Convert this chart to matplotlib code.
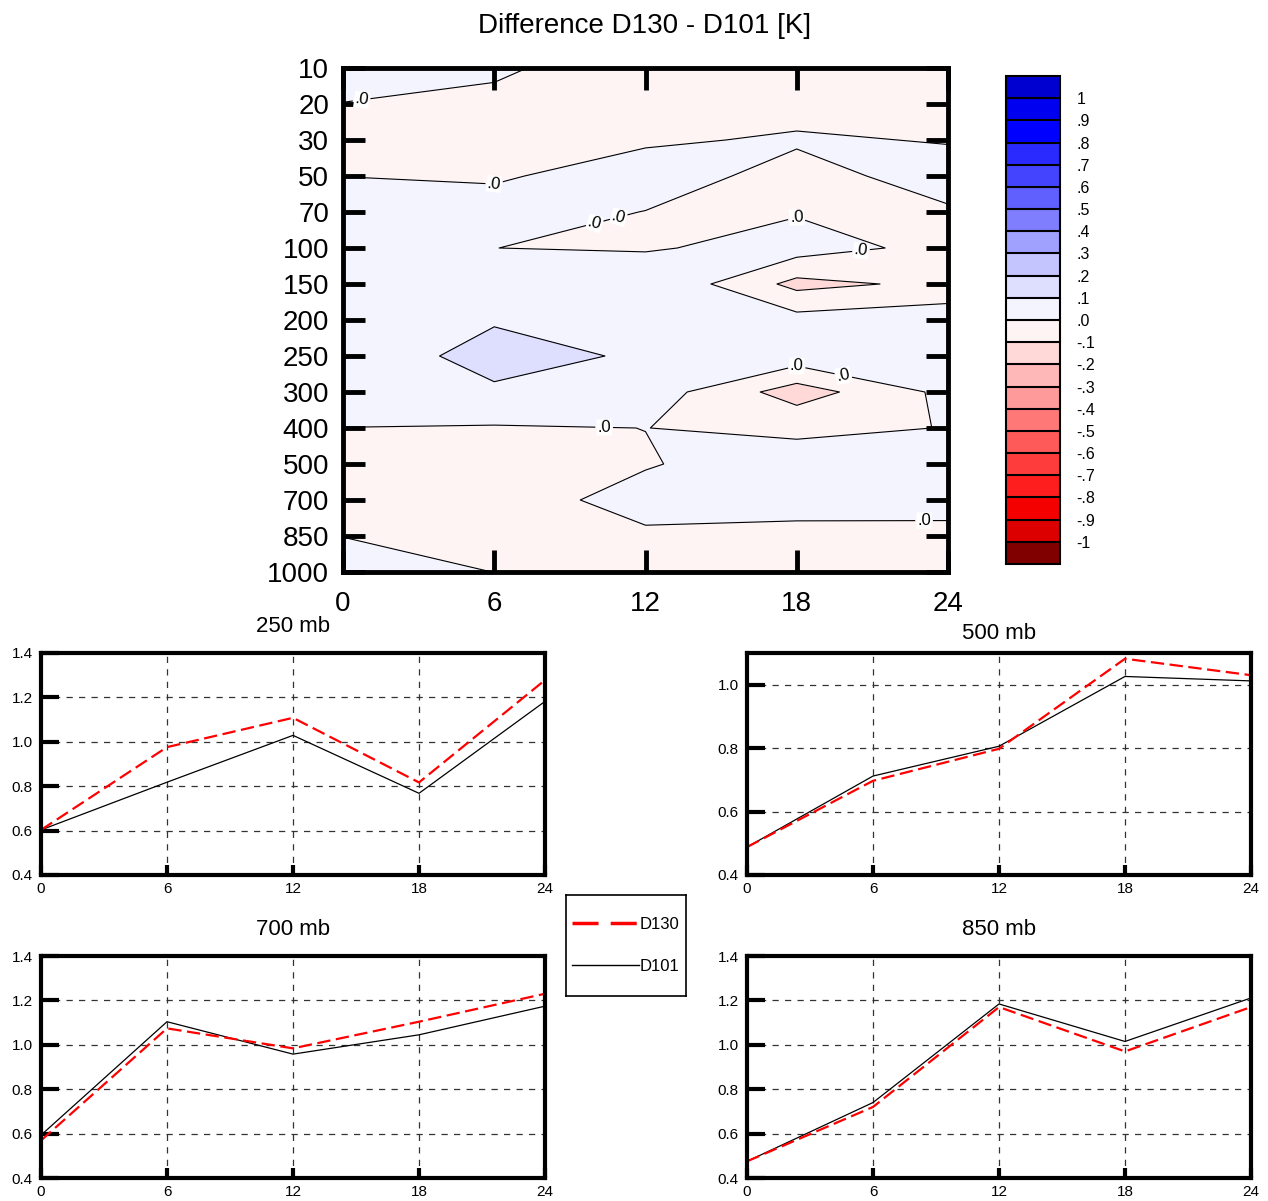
import numpy as np
import matplotlib.pyplot as plt
from matplotlib.lines import Line2D

plt.rcParams['font.family'] = ['Liberation Sans', 'DejaVu Sans']

W, H = 1268, 1201

hours = [0, 6, 12, 18, 24]
pres = ['10', '20', '30', '50', '70', '100', '150', '200', '250', '300',
        '400', '500', '700', '850', '1000']

# temperature difference D130 - D101 [K], one row per pressure level
diff = [
    [0.040, 0.020, -0.072, -0.050, -0.050],
    [-0.002, -0.030, -0.030, -0.030, -0.040],
    [-0.030, -0.040, -0.0113, 0.010, -0.005],
    [-0.001, -0.010, 0.040, -0.030, 0.035],
    [0.050, 0.035, -0.0017, -0.0079, -0.0099],
    [0.050, 0.0004, -0.012, 0.045, -0.032],
    [0.050, 0.050, 0.099, -0.130, -0.0755],
    [0.050, 0.093, 0.070, 0.0367, 0.064],
    [0.047, 0.130, 0.089, 0.058, 0.050],
    [0.050, 0.088, 0.057, -0.150, 0.027],
    [-0.001, -0.0077, 0.0005, -0.015, 0.0018],
    [-0.040, -0.040, -0.0045, 0.033, 0.040],
    [-0.040, -0.029, 0.022, 0.020, 0.020],
    [-0.001, -0.030, -0.0094, -0.0145, -0.015],
    [0.030, -0.0005, -0.030, -0.030, -0.030],
]

clev = np.round(np.linspace(-1, 1, 21), 1)
# under, -1..1 bins, over
ccols = ['#800000', '#DC0000', '#F50000', '#FF1E1E', '#FF3C3C', '#FF5A5A',
         '#FF7878', '#FF9A9A', '#FFB8B8', '#FFD8D8', '#FFF4F4',
         '#F4F4FF', '#DEDEFF', '#C4C4FF', '#A0A0FF', '#7E7EFF', '#6060FF',
         '#4444FF', '#2A2AFF', '#0000FF', '#0000F0', '#0000D0']

# time series at single levels
d130_250 = [0.603, 0.976, 1.108, 0.817, 1.278]
d101_250 = [0.603, 0.818, 1.029, 0.768, 1.182]
d130_500 = [0.488, 0.697, 0.798, 1.082, 1.030]
d101_500 = [0.488, 0.712, 0.806, 1.026, 1.012]
d130_700 = [0.569, 1.074, 0.984, 1.104, 1.230]
d101_700 = [0.593, 1.104, 0.958, 1.045, 1.174]
d130_850 = [0.475, 0.720, 1.170, 0.970, 1.170]
d101_850 = [0.475, 0.740, 1.184, 1.015, 1.211]


def frac(x0, y0, w, h):
    return [x0 / W, 1 - (y0 + h) / H, w / W, h / H]


def cbfmt(v):
    s = '%.1f' % v
    if s in ('1.0', '-1.0'):
        return s[:-2]
    return s.replace('0.', '.')


fig = plt.figure(figsize=(W / 100, H / 100), dpi=100)

# ---- main cross-section ----
ax = fig.add_axes(frac(343, 68, 605, 504))
z = np.array(diff)
yi = np.arange(len(pres))
cf = ax.contourf(hours, yi, z, levels=clev, colors=ccols, extend='both')
ax.contour(hours, yi, z, levels=clev[clev != 0], colors='k', linewidths=0.8,
           linestyles='solid')
cs0 = ax.contour(hours, yi, z, levels=[0.0], colors='k', linewidths=0.8,
                 linestyles='solid')
lab_pos = [(0.75, 0.94), (6.0, 3.25), (10.0, 4.35), (10.95, 4.17),
           (18.0, 4.14), (20.55, 5.08), (18.0, 8.28), (19.84, 8.56),
           (10.36, 10.0), (23.05, 12.58)]
labs = ax.clabel(cs0, manual=lab_pos, fmt=lambda v: '.0',
                 fontsize=12, inline=True, inline_spacing=2)
for t in labs:
    t.set_bbox(dict(facecolor='white', edgecolor='none', pad=0.5))

ax.set_xlim(0, 24)
ax.set_ylim(len(pres) - 1, 0)
ax.set_xticks(hours)
ax.set_yticks(yi)
ax.set_yticklabels(pres)
ax.tick_params(direction='in', length=16, width=3.5, labelsize=20,
               top=True, right=True, pad=10)
ax.tick_params(axis='x', pad=14)
for s in ax.spines.values():
    s.set_linewidth(3.5)

fig.text(645 / W, 1 - 26 / H, 'Difference D130 - D101 [K]', ha='center',
         va='center', fontsize=20)

cax = fig.add_axes(frac(1006, 76, 54, 488))
cb = fig.colorbar(cf, cax=cax, extendrect=True, extendfrac='auto',
                  drawedges=True, ticks=clev)
cb.set_ticklabels([cbfmt(v) for v in clev])
cb.ax.tick_params(length=0, labelsize=11.5, pad=12)
cb.outline.set_linewidth(1.5)
cb.dividers.set_linewidth(1.5)

# ---- single-level panels ----
panels = [
    ('250 mb', d130_250, d101_250, 41, 653, 15, 1.4),
    ('500 mb', d130_500, d101_500, 747, 653, 10, 1.1),
    ('700 mb', d130_700, d101_700, 41, 956, 15, 1.4),
    ('850 mb', d130_850, d101_850, 747, 956, 15, 1.4),
]
for name, a, b, x0, y0, tpad, ytop in panels:
    pax = fig.add_axes(frac(x0, y0, 504, 222))
    pax.plot(hours, b, color='k', lw=0.9)
    pax.plot(hours, a, color='red', lw=1.6, dashes=(6, 2.5))
    pax.set_xlim(0, 24)
    pax.set_ylim(0.4, ytop)
    pax.set_xticks(hours)
    pax.set_yticks(np.round(np.arange(0.4, ytop + 0.01, 0.2), 1))
    pax.yaxis.set_major_formatter(plt.FormatStrFormatter('%.1f'))
    pax.grid(True, linestyle=(0, (5, 5)), color='#333333', lw=0.9)
    pax.tick_params(axis='y', direction='in', length=13, width=3,
                    labelsize=11, pad=6)
    pax.tick_params(axis='x', direction='in', length=7, width=3,
                    labelsize=11, pad=5)
    for s in pax.spines.values():
        s.set_linewidth(3)
    pax.set_title(name, fontsize=16, pad=tpad)

# ---- legend box ----
lax = fig.add_axes(frac(566, 895, 120, 101))
lax.set_xticks([])
lax.set_yticks([])
for s in lax.spines.values():
    s.set_linewidth(1.2)
handles = [Line2D([], [], color='red', lw=2.5, dashes=(7.5, 3.5)),
           Line2D([], [], color='k', lw=1.0)]
lax.legend(handles, ['D130', 'D101'], loc='center', frameon=False,
           fontsize=12, handlelength=4.0, handletextpad=0.05,
           labelspacing=1.6)

fig.savefig('out.png', dpi=100)
